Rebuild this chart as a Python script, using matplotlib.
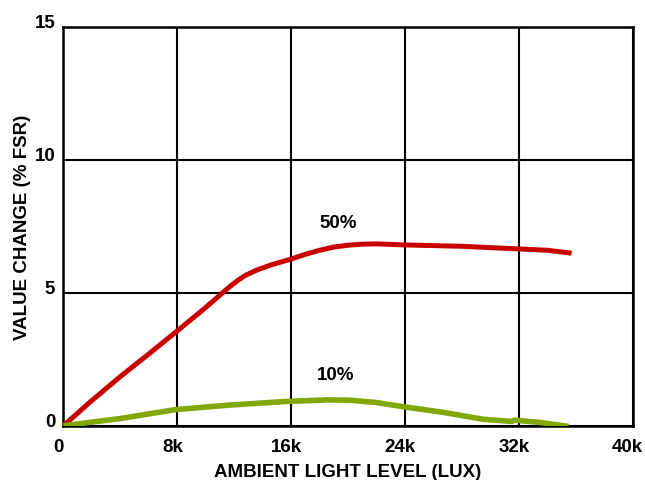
import matplotlib
matplotlib.use("Agg")
import matplotlib.pyplot as plt
from matplotlib.transforms import ScaledTranslation

plt.rcParams['font.family'] = ['Liberation Sans', 'DejaVu Sans']
plt.rcParams['font.weight'] = 'bold'

# Data (lux, % FSR)
x_ticks = [0, 8000, 16000, 24000, 32000, 40000]
x_tick_labels = ["0", "8k", "16k", "24k", "32k", "40k"]
y_ticks = [0, 5, 10, 15]
y_tick_labels = ["0", "5", "10", "15"]

lux_50 = [0, 2000, 4000, 6000, 8000, 10000, 11500, 12200, 12800, 13600, 14600,
          16000, 17000, 18000, 19000, 20000, 21000, 22000, 24000, 28000,
          32000, 34000, 35700]
val_50 = [0, 0.95, 1.85, 2.7, 3.57, 4.45, 5.15, 5.45, 5.66, 5.86, 6.05,
          6.27, 6.45, 6.6, 6.72, 6.79, 6.83, 6.84, 6.8, 6.75,
          6.65, 6.6, 6.49]

lux_10 = [0, 4000, 7800, 11500, 15600, 18500, 20100, 22000, 23800, 26700,
          29500, 31500, 31700, 33500, 35500]
val_10 = [0, 0.27, 0.6, 0.77, 0.91, 0.97, 0.96, 0.87, 0.72, 0.5,
          0.24, 0.16, 0.21, 0.12, -0.03]

label_50 = "50%"
label_10 = "10%"
label_50_pos = (19300, 7.65)
label_10_pos = (19100, 1.94)

FS = 13.5

fig = plt.figure(figsize=(6.45, 4.81), dpi=100)
ax = fig.add_axes([0.0984, 0.1129, 0.8826, 0.8289])

ax.plot(lux_50, val_50, color='#C80000', lw=3.6, solid_capstyle='butt',
        solid_joinstyle='round', zorder=3)
ax.plot(lux_10, val_10, color='#80A800', lw=4.0, solid_capstyle='butt',
        solid_joinstyle='round', zorder=3)

ax.text(*label_50_pos, label_50, ha='center', va='center', fontsize=FS, fontweight='bold')
ax.text(*label_10_pos, label_10, ha='center', va='center', fontsize=FS, fontweight='bold')

ax.set_xlim(0, 40000)
ax.set_ylim(0, 15)
ax.set_xticks(x_ticks)
ax.set_xticklabels(x_tick_labels)
ax.set_yticks(y_ticks)
ax.set_yticklabels(y_tick_labels)
ax.tick_params(axis='both', length=0, labelsize=FS)
ax.tick_params(axis='x', pad=9)
ax.tick_params(axis='y', pad=6)
for lab in ax.get_yticklabels():
    lab.set_verticalalignment('baseline')
    lab.set_fontweight('bold')
shift = ScaledTranslation(-5 / 100, 0, fig.dpi_scale_trans)
for lab in ax.get_xticklabels():
    lab.set_fontweight('bold')
    lab.set_transform(lab.get_transform() + shift)

ax.grid(True, color='black', lw=1.5)
ax.set_axisbelow(True)
for s in ax.spines.values():
    s.set_linewidth(1.8)
    s.set_color('black')

ax.set_xlabel("AMBIENT LIGHT LEVEL (LUX)", fontsize=FS, fontweight='bold')
ax.set_ylabel("VALUE CHANGE (% FSR)", fontsize=FS, fontweight='bold')
ax.xaxis.set_label_coords(0.5, -0.094)
ax.xaxis.label.set_verticalalignment('top')
ax.yaxis.set_label_coords(-0.057, 0.5)

fig.savefig("out.png", dpi=100)
